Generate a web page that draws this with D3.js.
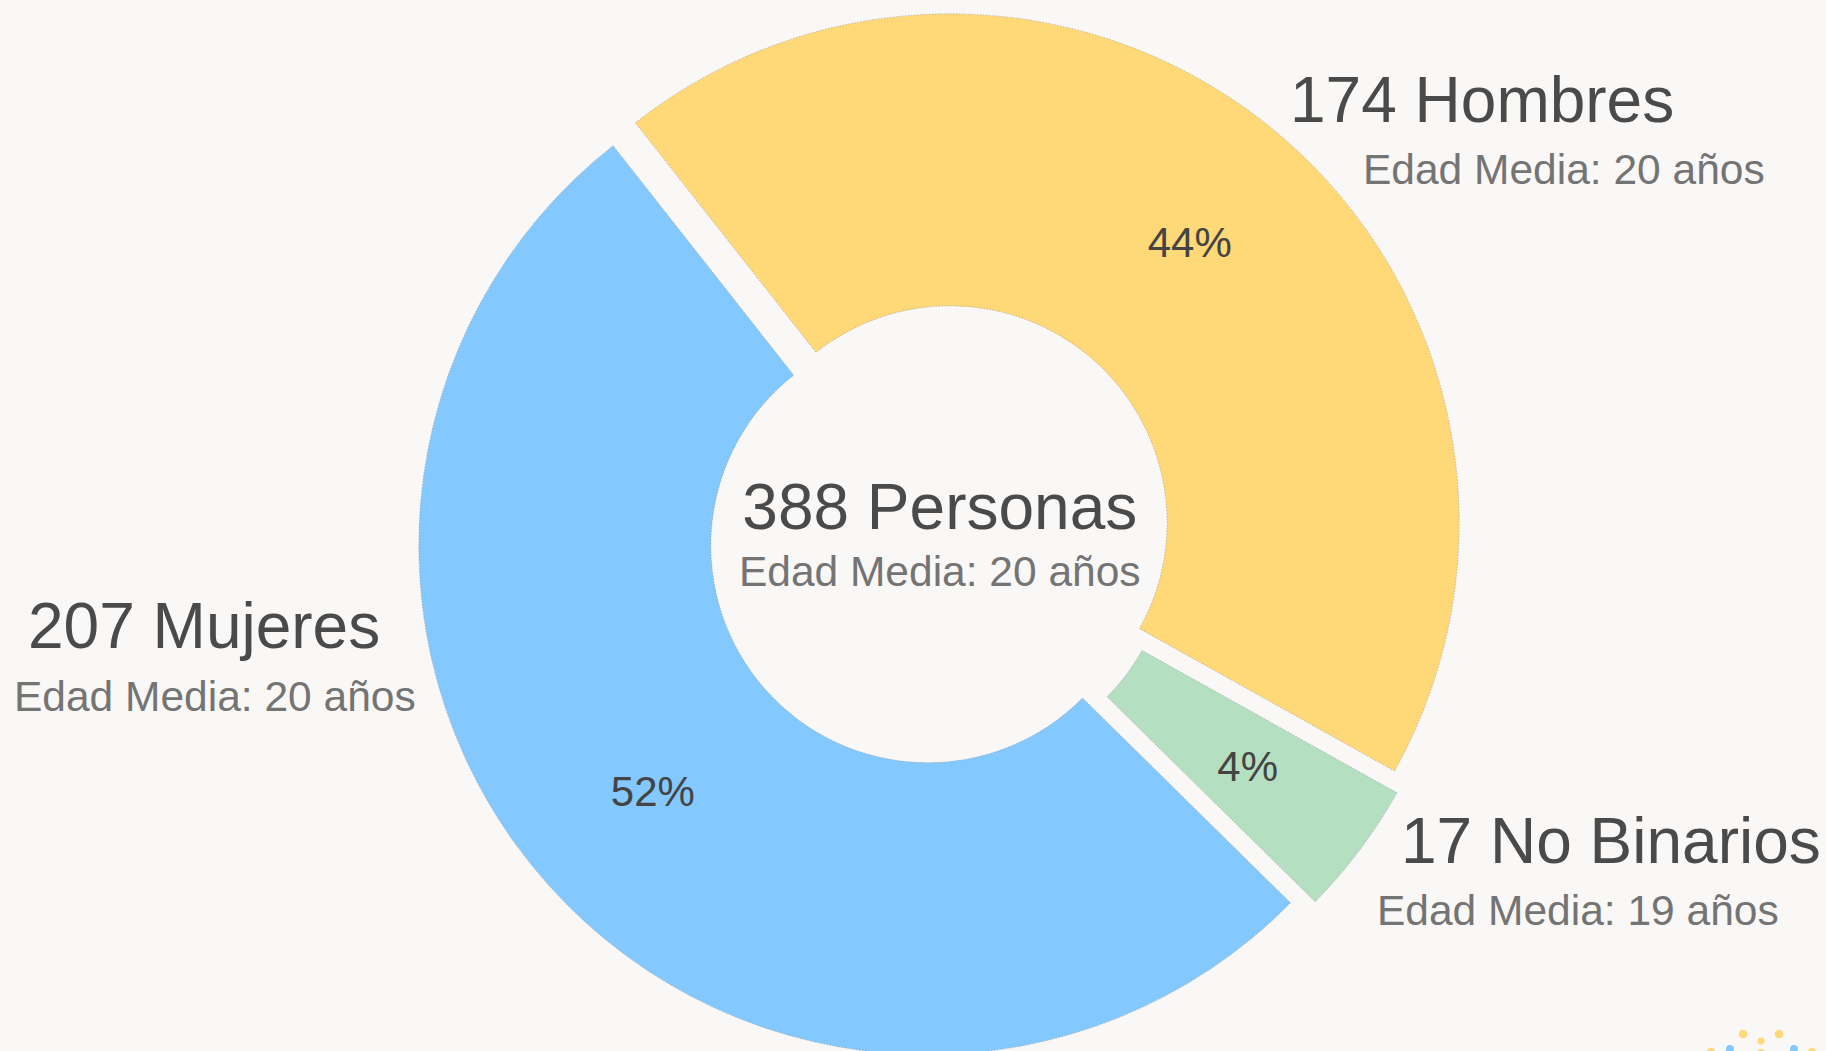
<!DOCTYPE html>
<html>
<head>
<meta charset="utf-8">
<script src="https://cdn.jsdelivr.net/npm/d3@7"></script>
<style>
  html, body { margin: 0; padding: 0; background: #F9F8F6; overflow: hidden; }
  svg { display: block; font-family: "Liberation Sans", Arial, Helvetica, sans-serif; }
</style>
</head>
<body>
<svg id="chart" width="1826" height="1051"></svg>
<script>
// ---- data ----
const categories = ["Hombres", "No Binarios", "Mujeres"];
const counts = [174, 17, 207];
const meanAges = [20, 19, 20];
const sliceColors = ["#FFD877", "#B4DFC0", "#83C8FE"];
const totalText = "388 Personas";
const totalMeanAge = 20;

// ---- layout ----
const W = 1826, H = 1051;
const cx = 939.75, cy = 535;
const outerR = 509, innerR = 217;
const explode = 16;
const labelR = 369;
const startDeg = -38.2;

const svg = d3.select("#chart");
svg.append("rect").attr("width", W).attr("height", H).attr("fill", "#F9F8F6");

const rows = categories.map((c, i) => ({ name: c, count: counts[i], age: meanAges[i], color: sliceColors[i] }));
const sum = d3.sum(counts);

const pie = d3.pie()
  .value(d => d.count)
  .sort(null)
  .startAngle(startDeg * Math.PI / 180)
  .endAngle((startDeg + 360) * Math.PI / 180);

const arc = d3.arc().innerRadius(innerR).outerRadius(outerR);
const arcs = pie(rows);

const g = svg.append("g").attr("transform", `translate(${cx},${cy})`);

const slices = g.selectAll("g.slice").data(arcs).join("g")
  .attr("class", "slice")
  .attr("transform", d => {
    const m = (d.startAngle + d.endAngle) / 2;
    return `translate(${explode * Math.sin(m)},${-explode * Math.cos(m)})`;
  });

slices.append("path")
  .attr("d", arc)
  .attr("fill", d => d.data.color)
  .attr("stroke", "#8f8f8f")
  .attr("stroke-opacity", 0.55)
  .attr("stroke-width", 1)
  .attr("stroke-dasharray", "1.5,1.5");

const pct = d3.format(".0%");
slices.append("text")
  .attr("x", d => labelR * Math.sin((d.startAngle + d.endAngle) / 2))
  .attr("y", d => -labelR * Math.cos((d.startAngle + d.endAngle) / 2))
  .attr("text-anchor", "middle")
  .attr("dominant-baseline", "central")
  .attr("font-size", 42)
  .attr("fill", "#444444")
  .text(d => pct(d.data.count / sum));

// center text
g.append("text")
  .attr("x", 0).attr("y", 529 - cy)
  .attr("text-anchor", "middle")
  .attr("font-size", 64)
  .attr("fill", "#4a4a4a")
  .text(totalText);
g.append("text")
  .attr("x", 0).attr("y", 586 - cy)
  .attr("text-anchor", "middle")
  .attr("font-size", 42.5)
  .attr("fill", "#747474")
  .text(`Edad Media: ${totalMeanAge} años`);

// outside labels (positions per category)
const labelPos = {
  "Hombres":     { hx: 1290, hy: 122, sx: 1363, sy: 184 },
  "No Binarios": { hx: 1401, hy: 863, sx: 1377, sy: 925 },
  "Mujeres":     { hx: 28,   hy: 648, sx: 14,   sy: 711 }
};
const lab = svg.append("g").selectAll("g").data(rows).join("g");
lab.append("text")
  .attr("x", d => labelPos[d.name].hx)
  .attr("y", d => labelPos[d.name].hy)
  .attr("font-size", 64)
  .attr("fill", "#4a4a4a")
  .text(d => `${d.count} ${d.name}`);
lab.append("text")
  .attr("x", d => labelPos[d.name].sx)
  .attr("y", d => labelPos[d.name].sy)
  .attr("font-size", 42.5)
  .attr("fill", "#747474")
  .text(d => `Edad Media: ${d.age} años`);

// small decorative logo at bottom-right (partly cut off)
const logoDots = [
  [1743, 1034, 4.3, 0], [1761, 1041, 3.5, 0], [1779, 1034, 4.3, 0],
  [1711, 1052, 4, 0], [1730, 1049, 4, 2], [1761, 1053, 4, 0],
  [1794, 1049, 4, 2], [1812, 1052, 4, 0]
];
svg.append("g").selectAll("circle").data(logoDots).join("circle")
  .attr("cx", d => d[0]).attr("cy", d => d[1]).attr("r", d => d[2])
  .attr("fill", d => sliceColors[d[3]]);
</script>
</body>
</html>
